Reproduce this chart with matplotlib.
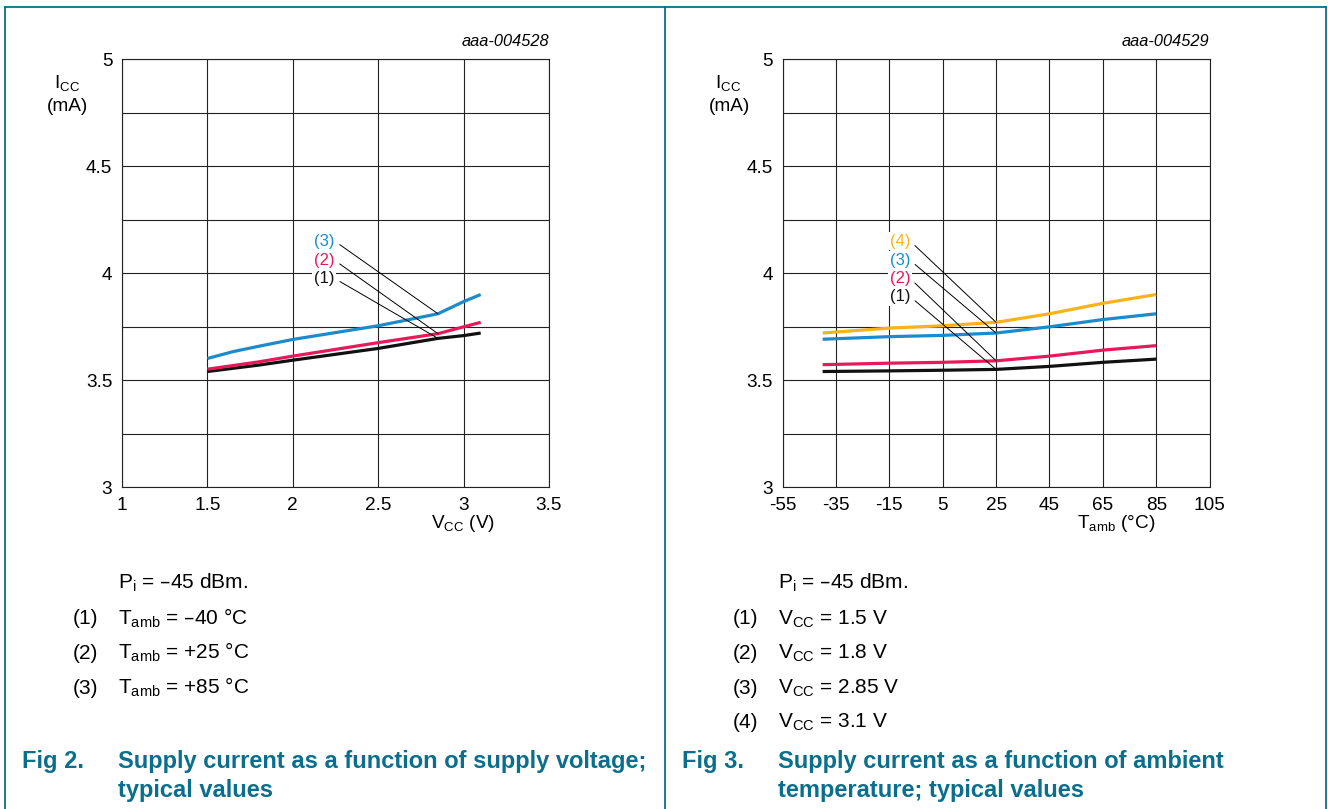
import matplotlib.pyplot as plt
import numpy as np
from matplotlib.ticker import MultipleLocator, FixedLocator

plt.rcParams['font.family'] = ['Liberation Sans', 'DejaVu Sans']
plt.rcParams['mathtext.default'] = 'regular'
plt.rcParams['axes.unicode_minus'] = False

# Fig 2: supply current vs supply voltage
vcc = [1.5, 1.65, 1.8, 2.0, 2.5, 2.85, 3.0, 3.1]
icc_tm40 = [3.54, 3.555, 3.57, 3.593, 3.648, 3.695, 3.708, 3.72]
icc_t25 = [3.551, 3.568, 3.585, 3.612, 3.675, 3.717, 3.749, 3.77]
icc_t85 = [3.601, 3.633, 3.658, 3.69, 3.754, 3.81, 3.867, 3.90]

# Fig 3: supply current vs ambient temperature
tamb = [-40, -15, 5, 25, 45, 65, 85]
icc_v15 = [3.54, 3.543, 3.546, 3.55, 3.564, 3.583, 3.598]
icc_v18 = [3.572, 3.579, 3.583, 3.59, 3.612, 3.64, 3.661]
icc_v285 = [3.691, 3.703, 3.709, 3.72, 3.749, 3.783, 3.81]
icc_v31 = [3.72, 3.743, 3.754, 3.77, 3.81, 3.859, 3.90]

tamb_ticks = [-55, -35, -15, 5, 25, 45, 65, 85, 105]

left_notes = ['T$_{amb}$ = \u201340 \u00b0C', 'T$_{amb}$ = +25 \u00b0C', 'T$_{amb}$ = +85 \u00b0C']
right_notes = ['V$_{CC}$ = 1.5 V', 'V$_{CC}$ = 1.8 V', 'V$_{CC}$ = 2.85 V', 'V$_{CC}$ = 3.1 V']

BLACK = '#111111'
PINK = '#e8195a'
BLUE = '#1b8bcb'
ORANGE = '#f9b21b'
TEAL = '#0a6f8c'

W, H = 1328, 809
fig = plt.figure(figsize=(W / 100, H / 100), dpi=100)

# overlay in pixel coords for frame and free text
ov = fig.add_axes([0, 0, 1, 1])
ov.set_xlim(0, W)
ov.set_ylim(H, 0)
ov.axis('off')
ov.plot([5, 1326], [6.5, 6.5], color=TEAL, lw=1.3)
for xx in [5, 665, 1326]:
    ov.plot([xx, xx], [6.5, H], color=TEAL, lw=1.3)


def make_axes(x0):
    ax = fig.add_axes([x0 / W, 1 - 487 / H, 427 / W, (487 - 59.3) / H])
    ax.set_ylim(3, 5)
    ax.yaxis.set_major_locator(MultipleLocator(0.5))
    ax.yaxis.set_minor_locator(MultipleLocator(0.25))
    ax.grid(True, which='both', color='#222222', lw=0.8)
    ax.tick_params(which='both', length=0, labelsize=13.7)
    ax.tick_params(axis='y', pad=7)
    ax.tick_params(axis='x', pad=7.5)
    for s in ax.spines.values():
        s.set_color('#222222')
        s.set_linewidth(0.8)
    ax.yaxis.set_major_formatter(plt.FuncFormatter(lambda v, p: '%g' % v))
    return ax


# left chart
ax1 = make_axes(122)
ax1.set_xlim(1, 3.5)
ax1.xaxis.set_major_locator(MultipleLocator(0.5))
ax1.xaxis.set_major_formatter(plt.FuncFormatter(lambda v, p: '%g' % v))
for ys, c in [(icc_tm40, BLACK), (icc_t25, PINK), (icc_t85, BLUE)]:
    ax1.plot(vcc, ys, color=c, lw=2.3, solid_capstyle='butt')
for lab, ys, c, ly in [('(3)', icc_t85, BLUE, 4.15), ('(2)', icc_t25, PINK, 4.06),
                       ('(1)', icc_tm40, BLACK, 3.975)]:
    ax1.annotate(lab, xy=(2.85, np.interp(2.85, vcc, ys)), xytext=(2.245, ly),
                 ha='right', va='center', fontsize=12, color=c,
                 bbox=dict(boxstyle='square,pad=0.1', fc='white', ec='none'),
                 arrowprops=dict(arrowstyle='-', color='black', lw=0.7,
                                 relpos=(1, 0.5), shrinkA=3, shrinkB=0))
ax1.text(1, 1.025, 'aaa-004528', transform=ax1.transAxes, ha='right', va='bottom',
         fontsize=11.8, style='italic')

# right chart
ax2 = make_axes(782.6)
ax2.set_xlim(-55, 105)
ax2.xaxis.set_major_locator(FixedLocator(tamb_ticks))
for ys, c in [(icc_v15, BLACK), (icc_v18, PINK), (icc_v285, BLUE), (icc_v31, ORANGE)]:
    ax2.plot(tamb, ys, color=c, lw=2.3, solid_capstyle='butt')
for lab, ys, c, ly in [('(4)', icc_v31, ORANGE, 4.15), ('(3)', icc_v285, BLUE, 4.06),
                       ('(2)', icc_v18, PINK, 3.975), ('(1)', icc_v15, BLACK, 3.89)]:
    ax2.annotate(lab, xy=(25, np.interp(25, tamb, ys)), xytext=(-7.2, ly),
                 ha='right', va='center', fontsize=12, color=c,
                 bbox=dict(boxstyle='square,pad=0.1', fc='white', ec='none'),
                 arrowprops=dict(arrowstyle='-', color='black', lw=0.7,
                                 relpos=(1, 0.5), shrinkA=3, shrinkB=0))
ax2.text(1, 1.025, 'aaa-004529', transform=ax2.transAxes, ha='right', va='bottom',
         fontsize=11.8, style='italic')

# axis titles
for cx in [68, 729]:
    ov.text(cx - 1, 88, 'I$_{CC}$', ha='center', va='baseline', fontsize=13.7)
    ov.text(cx, 111, '(mA)', ha='center', va='baseline', fontsize=13.7)
ov.text(463, 524, 'V$_{CC}$ (V)', ha='center', va='center', fontsize=13.7)
ov.text(1116, 524, 'T$_{amb}$ (\u00b0C)', ha='center', va='center', fontsize=13.7)

# notes under the charts
for x_num, x_txt, notes in [(73, 118, left_notes), (733, 778, right_notes)]:
    ov.text(x_txt, 589, 'P$_{i}$ = \u201345 dBm.', ha='left', va='baseline', fontsize=15)
    for i, n in enumerate(notes):
        yb = 624.5 + 34.5 * i
        ov.text(x_num, yb, '(%d)' % (i + 1), ha='left', va='baseline', fontsize=15)
        ov.text(x_txt, yb, n, ha='left', va='baseline', fontsize=15)

# captions
for x_fig, x_txt, num, lines in [
        (22, 118, 'Fig 2.', ['Supply current as a function of supply voltage;', 'typical values']),
        (682, 778, 'Fig 3.', ['Supply current as a function of ambient', 'temperature; typical values'])]:
    ov.text(x_fig, 768, num, ha='left', va='baseline', fontsize=17, weight='bold', color=TEAL)
    for i, ln in enumerate(lines):
        ov.text(x_txt, 768 + 29 * i, ln, ha='left', va='baseline', fontsize=17,
                weight='bold', color=TEAL)

fig.savefig('out.png', dpi=100)
